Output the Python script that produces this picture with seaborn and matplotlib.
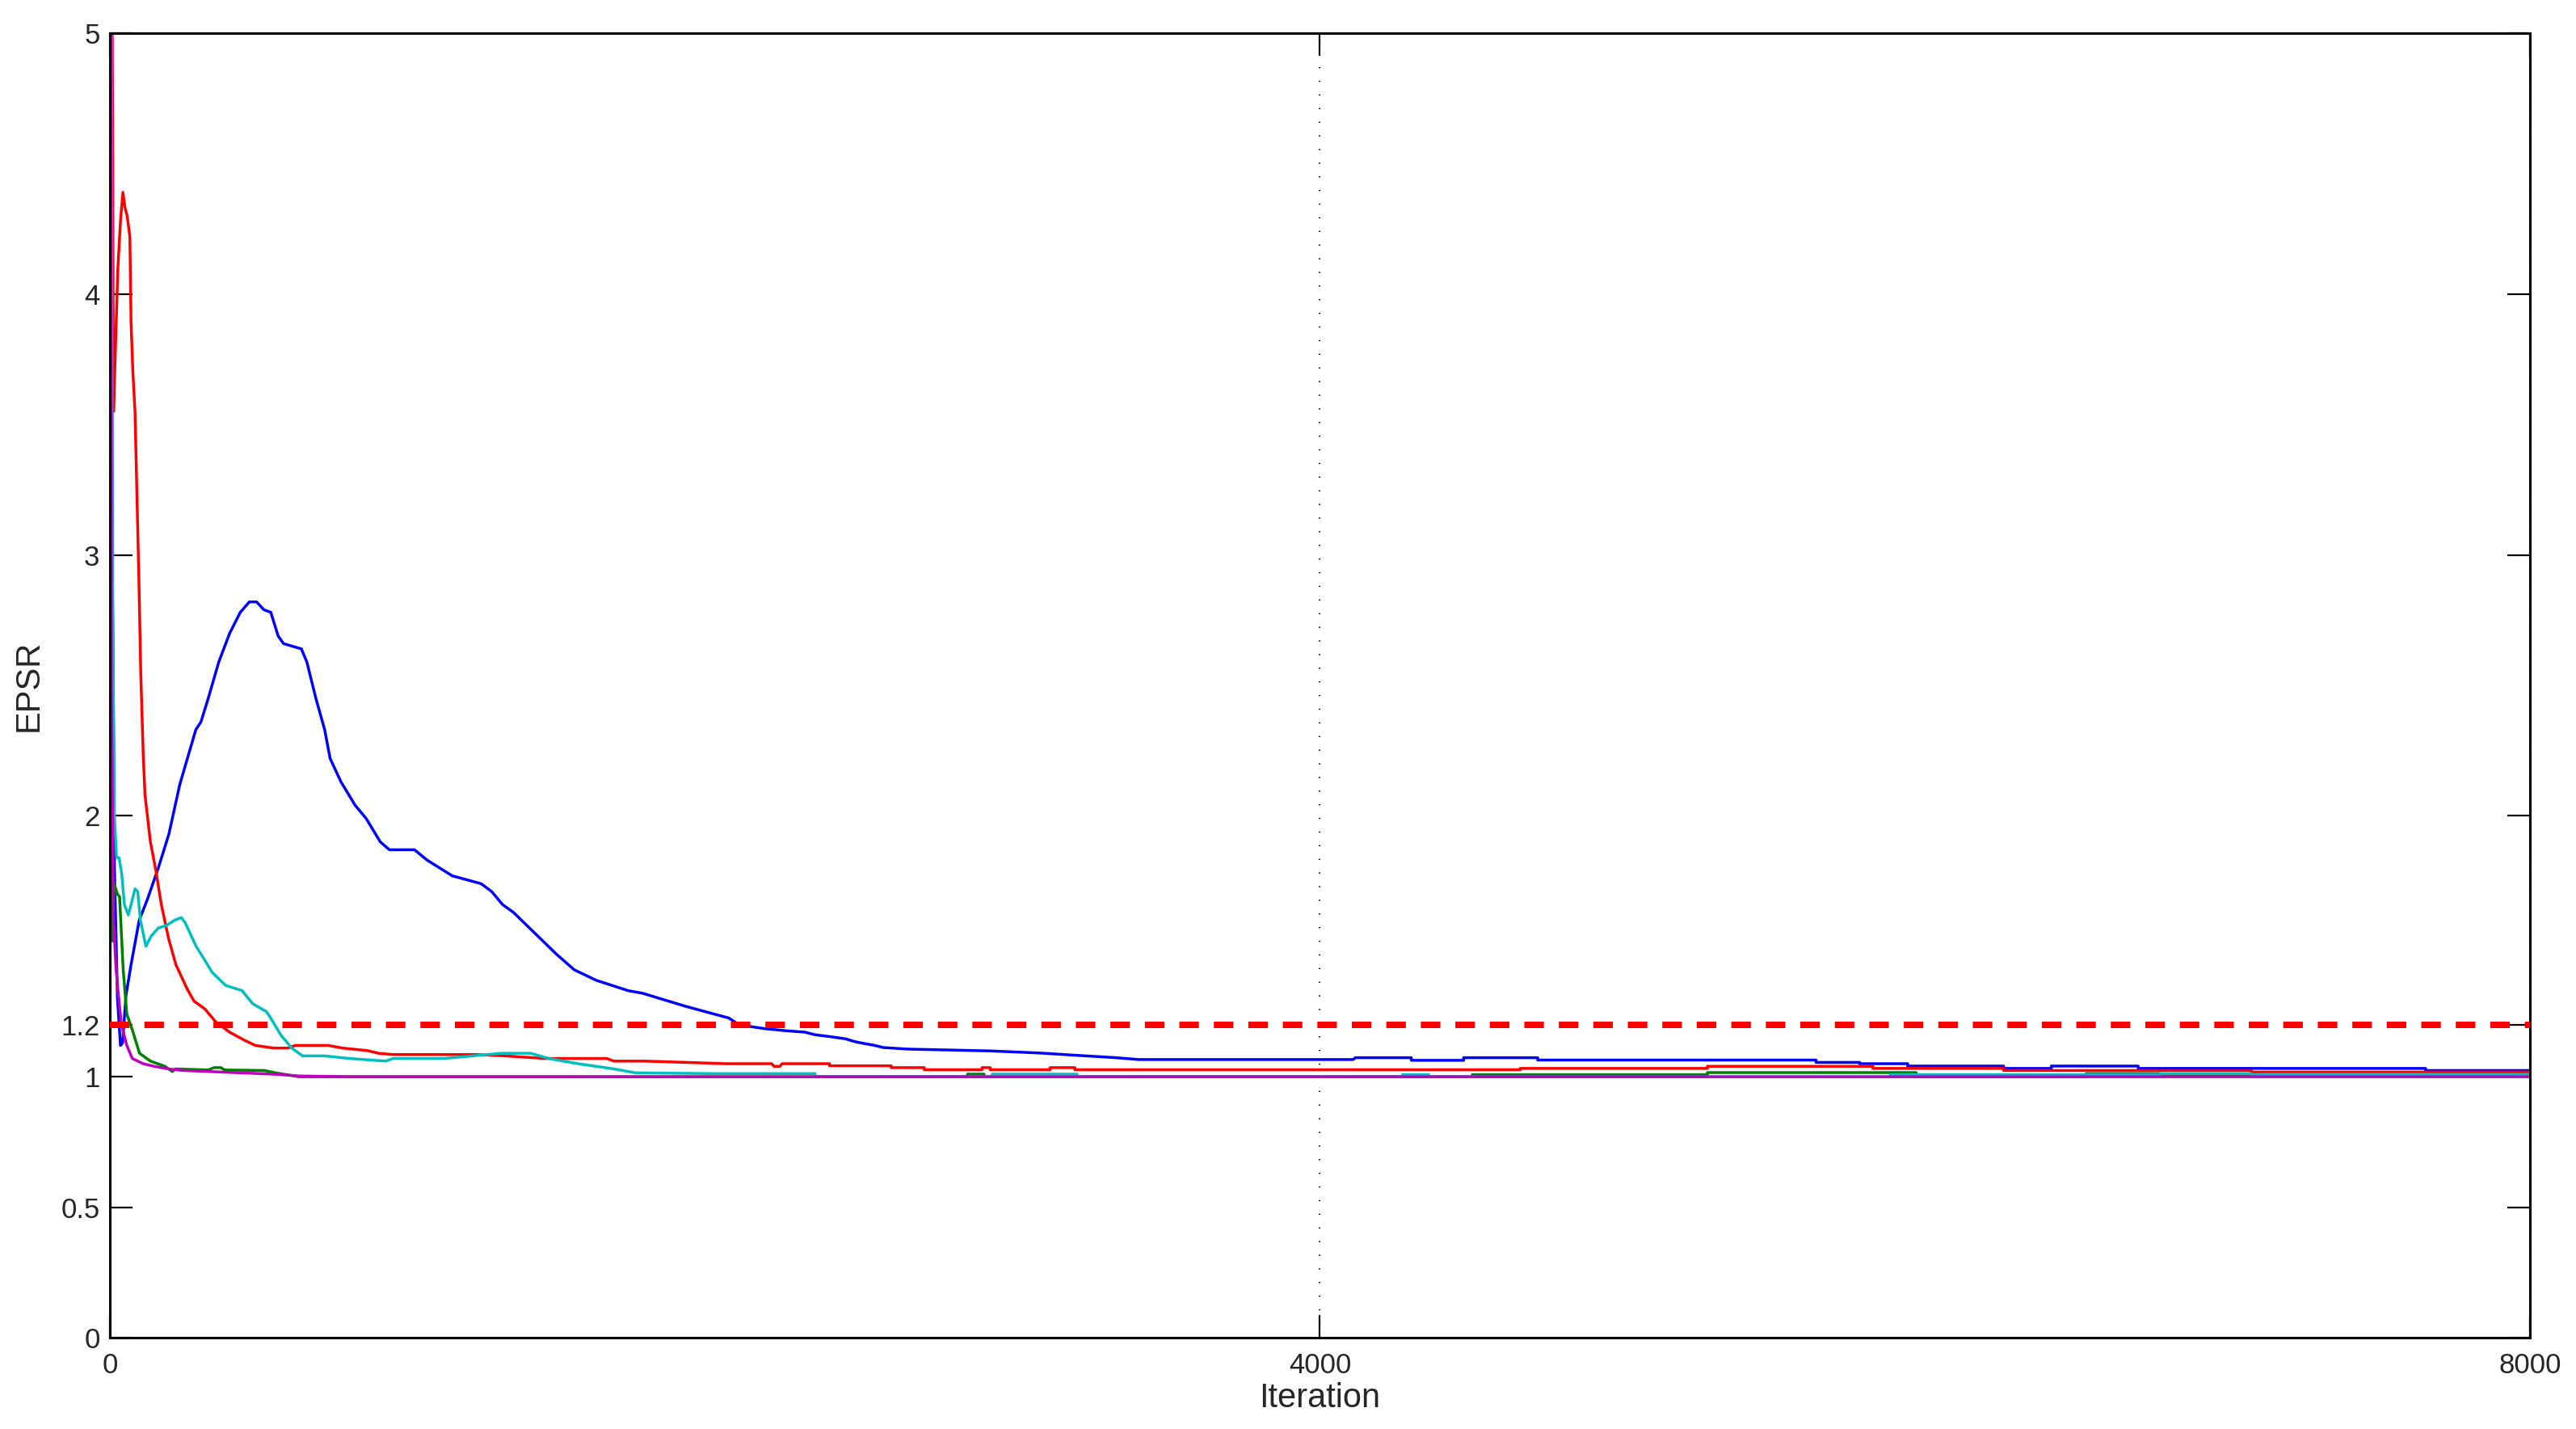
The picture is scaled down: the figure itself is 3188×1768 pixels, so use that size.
import numpy as np
import pandas as pd
import matplotlib
matplotlib.use("Agg")
import matplotlib.pyplot as plt
import seaborn as sns

# EPSR traces per parameter (iteration, value); pairs sharing an x are steps
blue_x = [0, 8, 15, 25, 35, 42, 53, 70, 97, 124, 160, 195, 231, 284, 301, 325, 360, 396,
          431, 461, 485, 509, 532, 556, 574, 633, 651, 681, 710, 728, 764, 811, 847, 894,
          924, 1007, 1049, 1132, 1227, 1262, 1298, 1334, 1405, 1476, 1535, 1607, 1713,
          1761, 1903, 2046, 2079, 2120, 2167, 2229, 2297, 2331, 2386, 2433, 2461, 2495,
          2529, 2556, 2638, 2910, 3074, 3183, 3326, 3401, 4110, 4117, 4302, 4302, 4475,
          4475, 4720, 4720, 5640, 5640, 5784, 5784, 5943, 5943, 6260, 6260, 6418, 6418,
          6705, 6705, 7655, 7655, 8000]
blue_y = [9.0, 3.0, 1.8, 1.3, 1.12, 1.13, 1.31, 1.43, 1.60, 1.68, 1.80, 1.93, 2.12, 2.33,
          2.36, 2.45, 2.59, 2.70, 2.78, 2.82, 2.82, 2.79, 2.78, 2.69, 2.66, 2.64, 2.59,
          2.45, 2.33, 2.22, 2.13, 2.04, 1.99, 1.90, 1.87, 1.87, 1.83, 1.77, 1.74, 1.71,
          1.66, 1.63, 1.55, 1.47, 1.41, 1.37, 1.33, 1.32, 1.27, 1.225, 1.20, 1.192, 1.184,
          1.177, 1.171, 1.161, 1.153, 1.145, 1.135, 1.127, 1.12, 1.112, 1.106, 1.099,
          1.091, 1.083, 1.073, 1.066, 1.066, 1.073, 1.073, 1.063, 1.063, 1.073, 1.073,
          1.064, 1.064, 1.055, 1.055, 1.05, 1.05, 1.041, 1.041, 1.032, 1.032, 1.041,
          1.041, 1.032, 1.032, 1.024, 1.024]

green_x = [0, 4, 8, 14, 25, 32, 44, 56, 74, 98, 134, 182, 206, 218, 326, 344, 367, 379,
           511, 547, 625, 2835, 2835, 2890, 2890, 4504, 4504, 5281, 5281, 5971, 5971,
           6533, 6533, 6777, 6777, 8000]
green_y = [9.0, 2.5, 1.52, 1.74, 1.70, 1.69, 1.41, 1.24, 1.18, 1.09, 1.06, 1.04, 1.02,
           1.03, 1.026, 1.035, 1.035, 1.026, 1.024, 1.015, 1.0, 1.0, 1.01, 1.01, 1.0,
           1.0, 1.008, 1.008, 1.016, 1.016, 1.0, 1.0, 1.012, 1.012, 1.007, 1.007]

red_x = [0, 8, 12, 16, 26, 35, 43, 50, 57, 66, 70, 76, 83, 90, 96, 102, 110, 116, 134,
         152, 170, 194, 218, 254, 278, 314, 350, 397, 445, 481, 541, 589, 613, 721, 769,
         852, 888, 936, 1211, 1307, 1439, 1642, 1666, 1771, 2038, 2188, 2195, 2215,
         2222, 2379, 2379, 2583, 2583, 2692, 2692, 2883, 2883, 2910, 2910, 3108, 3108,
         3190, 3190, 4662, 4662, 5281, 5281, 5828, 5828, 6260, 6260, 7079, 7079, 8000]
red_y = [9.0, 5.0, 3.55, 3.70, 4.09, 4.28, 4.39, 4.33, 4.30, 4.22, 3.89, 3.70, 3.55,
         3.20, 2.90, 2.55, 2.24, 2.08, 1.90, 1.79, 1.66, 1.53, 1.43, 1.34, 1.29, 1.26,
         1.21, 1.17, 1.14, 1.12, 1.11, 1.11, 1.12, 1.12, 1.11, 1.10, 1.09, 1.085, 1.085,
         1.08, 1.07, 1.07, 1.06, 1.06, 1.05, 1.05, 1.04, 1.04, 1.05, 1.05, 1.042, 1.042,
         1.035, 1.035, 1.027, 1.027, 1.035, 1.035, 1.027, 1.027, 1.035, 1.035, 1.027,
         1.027, 1.032, 1.032, 1.04, 1.04, 1.032, 1.032, 1.024, 1.024, 1.018, 1.018]

cyan_x = [0, 8, 15, 22, 30, 39, 48, 61, 70, 83, 92, 101, 119, 137, 160, 187, 214, 236,
          249, 285, 312, 338, 383, 437, 472, 517, 529, 565, 601, 637, 709, 792, 912, 936,
          1104, 1199, 1295, 1391, 1451, 1547, 1666, 1738, 2000, 2331, 2331, 2917, 2917,
          3197, 3197, 4273, 4273, 4360, 4360, 5885, 5885, 6777, 6777, 7079, 7079, 8000]
cyan_y = [9.0, 3.0, 2.0, 1.84, 1.84, 1.78, 1.66, 1.62, 1.66, 1.72, 1.71, 1.60, 1.50,
          1.54, 1.57, 1.58, 1.60, 1.61, 1.59, 1.50, 1.45, 1.40, 1.35, 1.33, 1.28, 1.25,
          1.23, 1.16, 1.11, 1.08, 1.08, 1.07, 1.06, 1.07, 1.07, 1.08, 1.09, 1.09, 1.07,
          1.05, 1.03, 1.015, 1.012, 1.012, 1.0, 1.0, 1.01, 1.01, 1.0, 1.0, 1.008, 1.008,
          1.0, 1.0, 1.008, 1.008, 1.012, 1.012, 1.009, 1.009]

magenta_x = [0, 5, 12, 20, 26, 38, 56, 74, 110, 146, 194, 242, 326, 541, 625, 800, 8000]
magenta_y = [9.0, 2.5, 1.6, 1.42, 1.34, 1.20, 1.12, 1.07, 1.05, 1.04, 1.03, 1.024, 1.02,
             1.01, 1.003, 1.0, 1.0]

threshold = 1.2
y_ticks = [0, 0.5, 1, 1.2, 2, 3, 4, 5]
y_ticklabels = ["0", "0.5", "1", "1.2", "2", "3", "4", "5"]
x_ticks = [0, 4000, 8000]

series = {
    "blue": (blue_x, blue_y),
    "green": (green_x, green_y),
    "red": (red_x, red_y),
    "cyan": (cyan_x, cyan_y),
    "magenta": (magenta_x, magenta_y),
}
palette = {"blue": (0, 0, 1), "green": (0, 0.5, 0), "red": (1, 0, 0),
           "cyan": (0, 0.75, 0.75), "magenta": (0.75, 0, 0.75)}

frames = []
for name, (xs, ys) in series.items():
    frames.append(pd.DataFrame({"Iteration": xs, "EPSR": ys, "chain": name,
                                "order": np.arange(len(xs))}))
df = pd.concat(frames, ignore_index=True)

sns.set_style("ticks")
plt.rcParams["font.family"] = ["Liberation Sans", "DejaVu Sans"]

fig = plt.figure(figsize=(31.88, 17.68), dpi=100)
ax = fig.add_axes([0.04266, 0.06392, 0.93946, 0.91290])

sns.lineplot(data=df, x="Iteration", y="EPSR", hue="chain", palette=palette,
             estimator=None, sort=False, units="chain", linewidth=2.5, legend=False, ax=ax)

# convergence threshold
ax.axhline(threshold, color=(1, 0, 0), linewidth=5.8, linestyle=(0, (3.0, 2.3)), zorder=5)

ax.set_xlim(0, 8000)
ax.set_ylim(0, 5)
ax.set_xticks(x_ticks)
ax.set_xticklabels([str(v) for v in x_ticks])
ax.set_yticks(y_ticks)
ax.set_yticklabels(y_ticklabels)
ax.xaxis.grid(True, linestyle=(0, (0.6, 7)), color="black", linewidth=1.6)
ax.yaxis.grid(False)

for sp in ax.spines.values():
    sp.set_visible(True)
    sp.set_color("black")
    sp.set_linewidth(2.2)

ax.tick_params(axis="both", which="major", direction="in", length=20, width=1.6,
               colors="black", labelcolor="#262626", labelsize=25,
               top=True, right=True)
ax.tick_params(axis="x", pad=13)
ax.tick_params(axis="y", pad=9)

ax.set_xlabel("Iteration", fontsize=30, color="#262626", labelpad=3)
ax.set_ylabel("EPSR", fontsize=30, color="#262626", labelpad=14)

fig.savefig("out.png", dpi=100, facecolor="white")
